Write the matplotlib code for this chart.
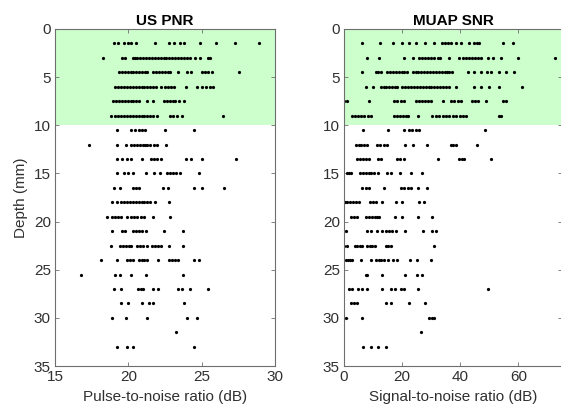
import matplotlib
matplotlib.use("Agg")
import matplotlib.pyplot as plt

plt.rcParams['font.family'] = ['Liberation Sans', 'DejaVu Sans']
plt.rcParams['font.size'] = 11

# depth rows (mm), one list of values per row
depths = [1.5, 3.0, 4.5, 6.0, 7.5, 9.0, 10.5, 12.0, 13.5, 15.0, 16.5,
          18.0, 19.5, 21.0, 22.5, 24.0, 25.5, 27.0, 28.5, 30.0, 31.5, 33.0]

# US pulse-to-noise ratio (dB)
pnr = [
    [19.0, 19.3, 19.7, 20.0, 20.2, 20.5, 21.8, 22.8, 23.1, 23.5, 23.8, 24.9, 26.0, 27.3, 28.9],
    [18.3, 19.6, 19.8, 20.3, 20.45, 20.6, 20.8, 21.0, 21.2, 21.4, 21.6, 21.8, 22.0, 22.2, 22.4,
     22.6, 22.8, 23.0, 23.2, 23.4, 23.6, 23.8, 24.0, 24.2, 24.55, 24.9, 25.4, 25.6],
    [19.35, 19.55, 19.75, 19.95, 20.15, 20.35, 20.55, 20.75, 20.95, 21.15, 21.3, 21.7, 21.9,
     22.1, 22.3, 22.5, 22.7, 22.85, 23.4, 24.0, 24.3, 25.0, 25.2, 25.4, 25.7, 27.55],
    [19.1, 19.3, 19.5, 19.7, 19.9, 20.1, 20.3, 20.5, 20.7, 20.9, 21.1, 21.3, 21.5, 21.7, 21.9,
     22.2, 22.5, 22.7, 22.9, 23.1, 23.95, 24.7, 25.0, 25.3, 25.6, 25.8],
    [18.95, 19.15, 19.35, 19.55, 19.75, 19.95, 20.15, 20.35, 20.55, 20.75, 21.3, 21.7, 22.45,
     22.65, 22.85, 23.05, 23.2, 23.45, 23.8],
    [18.8, 19.1, 19.3, 19.5, 19.7, 19.9, 20.1, 20.3, 20.5, 20.7, 20.9, 21.1, 21.3, 21.5, 21.7,
     21.95, 22.85, 23.05, 23.3, 23.65, 26.45],
    [19.25, 20.2, 20.45, 20.7, 20.95, 21.15, 22.5, 24.45],
    [17.3, 19.2, 19.85, 20.2, 20.4, 20.6, 20.8, 21.0, 21.15, 21.3, 21.5, 21.75, 21.95, 22.6],
    [19.2, 19.6, 19.9, 20.15, 20.95, 21.55, 21.75, 21.95, 22.2, 23.95, 24.3, 25.0, 27.35],
    [19.25, 19.7, 20.0, 20.3, 21.2, 21.75, 22.15, 22.65, 22.85, 23.05, 23.25, 23.5, 24.85],
    [19.0, 19.4, 20.3, 20.5, 20.75, 22.35, 22.7, 24.45, 25.0, 26.5],
    [18.9, 19.25, 19.5, 19.7, 19.9, 20.1, 20.3, 20.5, 20.7, 20.9, 21.1, 21.3, 21.5, 21.85, 22.75],
    [18.55, 18.9, 19.1, 19.3, 19.5, 19.9, 20.15, 20.4, 20.6, 20.85, 21.05, 21.7, 22.85],
    [18.9, 19.55, 19.8, 20.3, 20.5, 20.75, 20.95, 21.2, 22.45, 23.75],
    [18.8, 19.45, 19.65, 19.85, 20.05, 20.2, 20.6, 20.8, 21.0, 21.3, 21.6, 21.8, 22.0, 22.2,
     22.8, 23.75],
    [18.15, 19.25, 19.9, 20.1, 20.3, 20.75, 20.95, 21.1, 21.3, 22.0, 22.75, 22.95, 23.15, 23.4,
     24.45, 24.85],
    [16.8, 19.1, 19.4, 20.2, 21.2, 23.75],
    [19.0, 19.5, 20.65, 20.85, 21.0, 21.7, 22.0, 23.4, 23.65, 24.2, 25.4],
    [19.5, 20.0, 20.9, 21.4, 21.7, 23.8],
    [18.9, 19.85, 21.25, 24.0, 24.7],
    [23.25],
    [19.25, 19.9, 20.3, 24.45],
]

# MUAP signal-to-noise ratio (dB)
snr = [
    [6.3, 12.4, 16.7, 20.1, 22.4, 24.7, 27.8, 31.0, 33.6, 34.7, 35.8, 36.8, 38.5, 40.2, 43.1,
     44.8, 45.8, 46.6, 54.6, 58.0],
    [7.8, 12.1, 20.5, 23.6, 25.9, 27.0, 28.0, 29.0, 30.0, 31.1, 32.2, 33.1, 36.2, 39.7, 40.8,
     41.9, 43.0, 44.0, 45.0, 46.1, 47.1, 49.4, 51.1, 54.0, 59.8, 72.5],
    [6.3, 10.9, 11.8, 12.6, 14.8, 15.8, 16.8, 17.8, 18.8, 19.8, 20.8, 21.7, 23.6, 24.6, 25.6,
     26.6, 27.6, 28.6, 29.6, 30.6, 31.6, 32.6, 33.6, 34.6, 35.5, 36.2, 37.3, 42.5, 44.8, 47.1,
     49.2, 50.6, 53.4, 55.7, 58.4],
    [7.5, 10.1, 12.6, 13.6, 14.6, 15.5, 16.5, 17.5, 18.4, 20.1, 21.1, 22.1, 23.1, 24.1, 25.1,
     26.1, 27.1, 28.1, 29.1, 30.1, 31.1, 32.1, 33.1, 34.1, 35.1, 36.1, 38.5, 44.8, 47.1, 50.0,
     53.4, 61.1],
    [0.0, 1.1, 8.6, 17.2, 18.4, 19.5, 20.7, 24.7, 25.7, 26.8, 27.8, 28.9, 29.9, 33.9, 36.8,
     37.9, 39.1, 40.2, 44.2, 45.2, 46.0, 48.9, 54.6, 55.8],
    [2.9, 3.9, 4.9, 5.9, 7.0, 8.1, 9.2, 17.2, 18.2, 19.2, 20.2, 21.2, 22.1, 25.3, 30.4, 31.6,
     32.8, 34.0, 35.1, 36.2, 37.4, 38.6, 39.8, 40.9, 42.0, 53.4, 54.0],
    [6.7, 15.2, 20.5, 22.4, 23.5, 24.7, 25.9, 48.5],
    [4.0, 5.0, 6.0, 7.0, 8.0, 11.3, 12.5, 13.7, 14.9, 20.9, 23.6, 28.7, 36.8, 37.6, 38.5, 45.8],
    [4.6, 5.6, 6.6, 7.6, 8.6, 11.7, 12.9, 18.2, 19.3, 20.5, 32.2, 39.7, 40.5, 41.4, 50.6],
    [1.1, 1.8, 2.5, 5.5, 6.5, 7.5, 8.5, 9.4, 10.3, 11.7, 14.7, 16.3, 19.3, 23.2, 26.7],
    [6.3, 7.4, 8.6, 13.8, 19.5, 20.7, 21.9, 23.2, 25.3, 28.7],
    [0.2, 1.2, 2.2, 3.2, 4.2, 5.2, 9.0, 10.0, 10.9, 13.2, 17.8, 20.1, 25.9, 27.6],
    [2.3, 3.3, 4.4, 7.5, 8.5, 9.5, 10.5, 11.3, 12.1, 17.5, 19.8, 25.3, 30.4],
    [0.8, 8.0, 9.2, 11.5, 13.2, 14.3, 15.4, 16.6, 17.8, 20.9, 27.3, 30.4, 31.6],
    [0.0, 1.1, 3.7, 4.6, 5.5, 6.3, 8.0, 9.0, 9.8, 10.6, 14.4, 15.3, 16.1, 30.8],
    [0.6, 1.4, 2.2, 2.9, 5.7, 9.2, 10.9, 11.9, 12.9, 13.8, 15.2, 17.0, 18.4, 22.8, 25.1, 29.9],
    [7.5, 8.0, 13.2, 21.0, 25.1, 26.7],
    [1.7, 2.9, 4.8, 6.3, 8.0, 13.0, 16.1, 17.5, 19.5, 20.7, 25.3, 49.4],
    [2.5, 3.5, 4.4, 14.4, 16.1, 22.4, 27.8],
    [0.8, 6.3, 29.3, 30.2, 31.0],
    [26.4],
    [6.7, 9.2, 11.8, 14.4],
]

good_depth = 10  # shaded region 0..10 mm


def flatten(rows):
    xs, ys = [], []
    for d, vals in zip(depths, rows):
        for v in vals:
            xs.append(v)
            ys.append(d)
    return xs, ys


def style_axes(ax):
    ax.set_ylim(35, 0)
    ax.set_yticks(range(0, 36, 5))
    for s in ax.spines.values():
        s.set_color('#6e6e6e')
        s.set_linewidth(0.8)
    ax.tick_params(direction='in', length=3, width=0.6, color='#6e6e6e',
                   labelcolor='#303030', top=True, right=True, pad=3)


fig = plt.figure(figsize=(5.61, 4.17), dpi=100)
ax1 = fig.add_axes([55 / 561, 51 / 417, 220 / 561, 337 / 417])
ax2 = fig.add_axes([344 / 561, 51 / 417, 218 / 561, 337 / 417])

x1, y1 = flatten(pnr)
ax1.axhspan(0, good_depth, color='#ccffcc', zorder=0, lw=0)
ax1.plot(x1, y1, 'k.', markersize=2.6, linestyle='none')
ax1.set_xlim(15, 30)
ax1.set_xticks([15, 20, 25, 30])
style_axes(ax1)
ax1.set_title('US PNR', fontweight='bold', fontsize=11, pad=3)
ax1.set_xlabel('Pulse-to-noise ratio (dB)', color='#303030')
ax1.set_ylabel('Depth (mm)', color='#303030')

x2, y2 = flatten(snr)
ax2.axhspan(0, good_depth, color='#ccffcc', zorder=0, lw=0)
ax2.plot(x2, y2, 'k.', markersize=2.6, linestyle='none')
ax2.set_xlim(0, 75)
ax2.set_xticks([0, 20, 40, 60])
style_axes(ax2)
ax2.set_title('MUAP SNR', fontweight='bold', fontsize=11, pad=3)
ax2.set_xlabel('Signal-to-noise ratio (dB)', color='#303030')

fig.savefig('out.png', dpi=100)
